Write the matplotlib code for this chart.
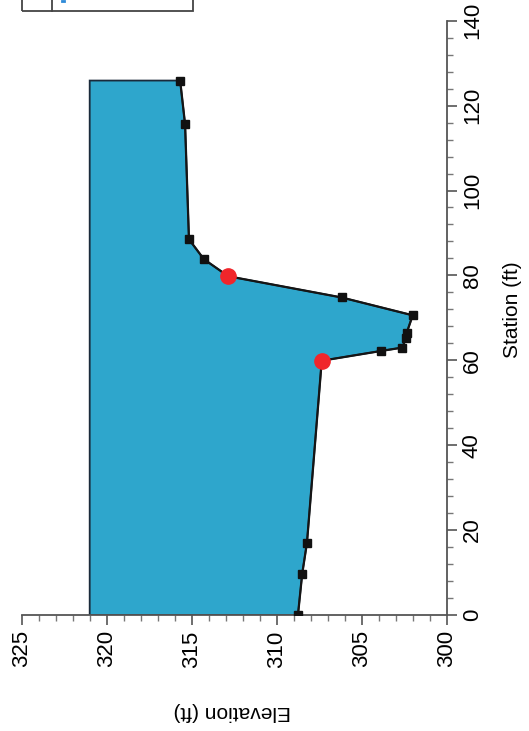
import matplotlib
matplotlib.use("Agg")
import matplotlib.pyplot as plt
from matplotlib.patches import Rectangle, Polygon
from matplotlib.lines import Line2D
from matplotlib.ticker import MultipleLocator

plt.rcParams['font.family'] = ['Liberation Sans', 'DejaVu Sans']

# Ground profile (station ft, elevation ft)
station = [0, 9.7, 17.0, 59.9, 62.2, 63.0, 65.3, 66.5, 70.6, 74.8, 79.8, 83.8, 88.5, 115.6, 125.9]
elevation = [308.75, 308.5, 308.22, 307.35, 303.86, 302.6, 302.4, 302.35, 302.0, 306.18, 312.85, 314.28, 315.16, 315.39, 315.68]
# Bank stations (red markers)
bank_station = [59.9, 79.8]
bank_elevation = [307.35, 312.85]
# Water surface elevation
wse = 321.0

W, H = 529, 731
fig = plt.figure(figsize=(W / 100, H / 100), dpi=100)
ax = fig.add_axes([21.7 / W, 1 - 615 / H, (446.7 - 21.7) / W, (615 - 20.7) / H])

# Rotated chart: elevation horizontal (inverted), station vertical
poly_pts = [(wse, station[0])] + list(zip(elevation, station)) + [(wse, station[-1])]
ax.add_patch(Polygon(poly_pts, closed=True, facecolor='#2ea6cc', edgecolor='#1a2a3a',
                     linewidth=1.3, zorder=1))
ax.plot(elevation, station, color='#151515', linewidth=1.6, zorder=2)
ax.plot(elevation, station, linestyle='none', marker='s', markersize=6,
        color='#111111', zorder=3)
ax.plot(bank_elevation, bank_station, linestyle='none', marker='o', markersize=11,
        color='#f0262b', zorder=4)

ax.set_xlim(325, 300)
ax.set_ylim(0, 140)

for s in ['top', 'left']:
    ax.spines[s].set_visible(False)
for s in ['bottom', 'right']:
    ax.spines[s].set_color('#555555')
    ax.spines[s].set_linewidth(1.3)

ax.yaxis.tick_right()
ax.yaxis.set_label_position('right')
ax.xaxis.set_major_locator(MultipleLocator(5))
ax.xaxis.set_minor_locator(MultipleLocator(1))
ax.yaxis.set_major_locator(MultipleLocator(20))
ax.yaxis.set_minor_locator(MultipleLocator(4))
ax.tick_params(axis='both', which='major', length=7, width=1.2, color='#555555',
               labelsize=16, direction='out', pad=4)
ax.tick_params(axis='both', which='minor', length=4, width=1.0, color='#777777',
               direction='out')
for lab in ax.get_xticklabels():
    lab.set_rotation(90)
for lab in ax.get_yticklabels():
    lab.set_rotation(90)
    lab.set_va('center')

fig.text(232 / W, 1 - 711 / H, 'Elevation (ft)', rotation=180, ha='center', va='center',
         fontsize=15)
fig.text(512 / W, 1 - 310 / H, 'Station (ft)', rotation=90, ha='center', va='center',
         fontsize=15)

# Partial legend box at top (cut off by page edge)
fig.patches.append(Rectangle((22 / W, 1 - 11 / H), (193 - 22) / W, 40 / H,
                             transform=fig.transFigure, fill=False,
                             edgecolor='#444444', linewidth=1.3))
fig.lines.append(Line2D([52 / W, 52 / W], [1 - 11 / H, 1.0], transform=fig.transFigure,
                        color='#444444', linewidth=1.3))
fig.lines.append(Line2D([62 / W, 64 / W], [1 - 1 / H, 1 - 1 / H], transform=fig.transFigure,
                        color='#2e8ad8', linewidth=2))

fig.savefig('out.png', dpi=100)
